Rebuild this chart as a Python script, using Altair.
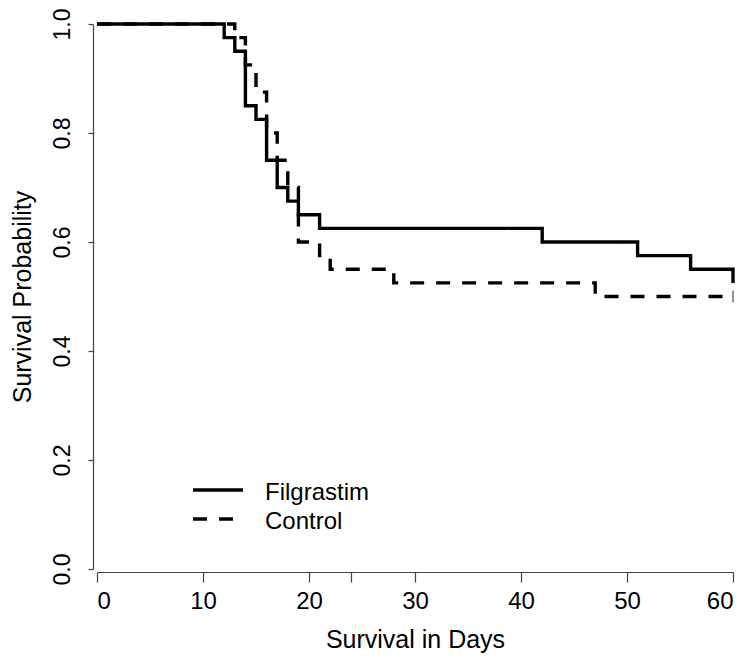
import altair as alt
import pandas as pd

# Kaplan-Meier step data
fil_days = [0, 12, 13, 14, 15, 16, 17, 18, 19, 21, 42, 51, 56, 60]
fil_surv = [1.0, 0.975, 0.95, 0.85, 0.825, 0.75, 0.70, 0.675, 0.65, 0.625, 0.60, 0.575, 0.55, 0.525]
ctl_days = [0, 13, 14, 15, 16, 17, 18, 19, 21, 22, 28, 47, 60]
ctl_surv = [1.0, 0.975, 0.925, 0.875, 0.80, 0.75, 0.70, 0.60, 0.575, 0.55, 0.525, 0.50, 0.50]
groups = ["Filgrastim", "Control"]
censor_days = [60]
censor_surv = [0.50]
x_ticks = [0, 10, 20, 24, 30, 40, 50, 60]
y_ticks = [0.0, 0.2, 0.4, 0.6, 0.8, 1.0]

rows = []
for d, s in zip(fil_days, fil_surv):
    rows.append({"day": d, "surv": s, "group": groups[0]})
for d, s in zip(ctl_days, ctl_surv):
    rows.append({"day": d, "surv": s, "group": groups[1]})
df = pd.DataFrame(rows)
cens = pd.DataFrame({"day": censor_days, "surv": censor_surv})

FONT = "Liberation Sans"
DASHES = [[1, 0], [14, 12]]

x_enc = alt.X("day:Q", scale=alt.Scale(domain=[0, 60], nice=False, zero=False),
              axis=alt.Axis(values=x_ticks, labelExpr="datum.value == 24 ? '' : datum.label",
                            title="Survival in Days", grid=False, offset=3, tickSize=10,
                            labelPadding=7, titlePadding=14))
y_enc = alt.Y("surv:Q", scale=alt.Scale(domain=[0, 1], nice=False),
              axis=alt.Axis(values=y_ticks, format=".1f", title="Survival Probability",
                            grid=False, offset=4, tickSize=5, labelAngle=-90,
                            labelAlign="center", labelBaseline="bottom", labelPadding=14,
                            labelFontSize=23, titlePadding=16))

lines = alt.Chart(df).mark_line(interpolate="step-after", strokeWidth=3.4, color="black",
                                strokeCap="butt").encode(
    x=x_enc,
    y=y_enc,
    strokeDash=alt.StrokeDash("group:N", scale=alt.Scale(domain=groups, range=DASHES), legend=None),
)

ticks = alt.Chart(cens).mark_tick(orient="vertical", size=12, thickness=1.2, color="black").encode(
    x="day:Q", y="surv:Q"
)

# hand-drawn legend (R style), positioned in pixels inside the plot area
legend_layers = []
row_y = [466, 495]
for i, g in enumerate(groups):
    ldf = pd.DataFrame({"group": [g]})
    legend_layers.append(
        alt.Chart(ldf).mark_rule(strokeWidth=3.4, color="black", strokeDash=DASHES[i],
                                 strokeCap="butt").encode(
            x=alt.value(96), x2=alt.value(146), y=alt.value(row_y[i]))
    )
    legend_layers.append(
        alt.Chart(ldf).mark_text(align="left", baseline="middle", font=FONT, fontSize=24,
                                 color="black").encode(
            x=alt.value(168), y=alt.value(row_y[i] + 3), text="group:N")
    )

chart = alt.layer(lines, ticks, *legend_layers).properties(
    width=636, height=545,
    autosize=alt.AutoSizeParams(type="none"),
    padding={"left": 89, "top": 16, "right": 9, "bottom": 88},
).configure_view(stroke=None).configure_axis(
    labelFont=FONT, titleFont=FONT, labelFontSize=24, titleFontSize=25,
    labelColor="black", titleColor="black", titleFontWeight="normal",
    domainColor="#444", tickColor="#444", domainWidth=1.2, tickWidth=1.2,
)

chart.save("out.html", embed_options={"renderer": "svg", "actions": False})
